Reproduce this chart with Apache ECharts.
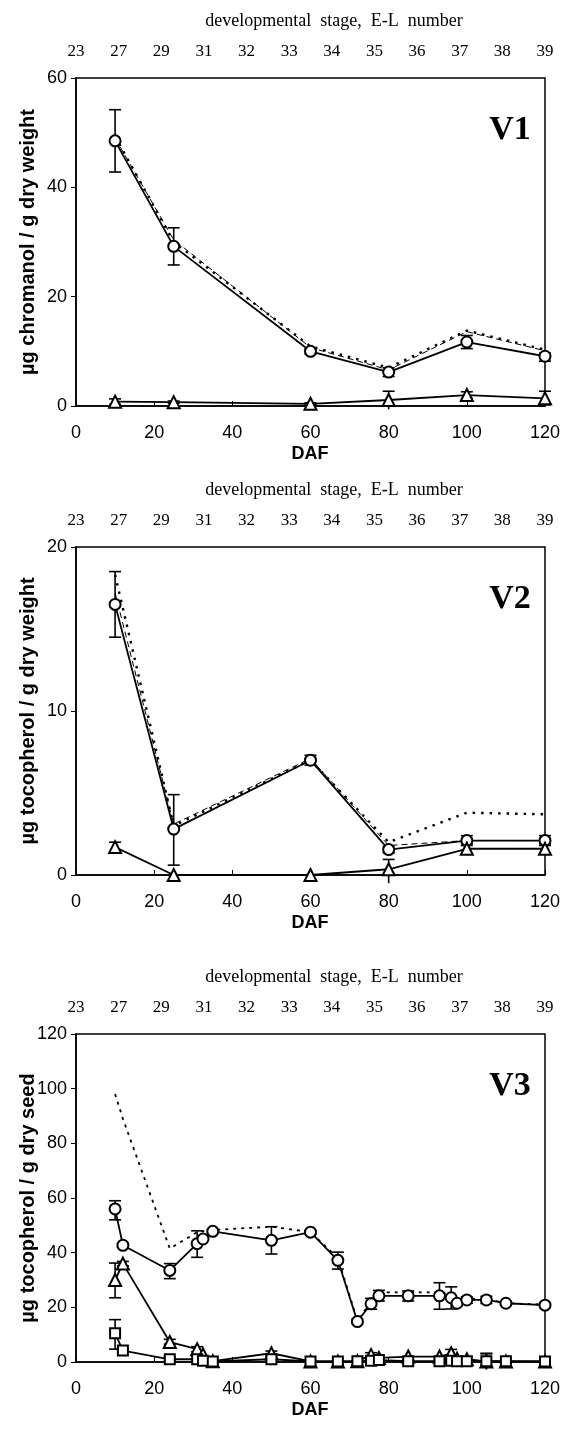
<!DOCTYPE html>
<html>
<head>
<meta charset="utf-8">
<script src="https://cdn.jsdelivr.net/npm/echarts@6/dist/echarts.min.js"></script>
<style>
html,body{margin:0;padding:0;background:#fff;}
#chart{width:573px;height:1429px;}
</style>
</head>
<body>
<div id="chart"></div>
<script>
// ---------- data ----------
const elStages = ['23','27','29','31','32','33','34','35','36','37','38','39'];
const dafTicks = [0, 20, 40, 60, 80, 100, 120];

// V1
const v1Daf = [10, 25, 60, 80, 100, 120];
const v1Circle   = [48.5, 29.2, 10.0, 6.2, 11.7, 9.1];
const v1CircleLo = [42.8, 25.8, 9.5, 5.4, 10.5, 8.2];
const v1CircleHi = [54.2, 32.6, 10.5, 7.0, 12.9, 9.7];
const v1Tri   = [0.8, 0.7, 0.4, 1.1, 2.0, 1.4];
const v1TriLo = [0.3, 0.5, 0.2, -0.6, 1.4, 0.2];
const v1TriHi = [1.3, 0.9, 0.6, 2.7, 2.6, 2.7];
const v1Total = [49.3, 30.0, 10.9, 7.0, 13.8, 10.3];
const v1Dash  = [49.0, 30.4, 10.7, 6.6, 13.6, 10.1];

// V2
const v2Daf = [10, 25, 60, 80, 100, 120];
const v2Circle   = [16.5, 2.8, 7.0, 1.55, 2.1, 2.1];
const v2CircleLo = [14.5, 0.6, 6.7, 1.35, 1.8, 1.8];
const v2CircleHi = [18.5, 4.9, 7.3, 1.75, 2.4, 2.4];
const v2Tri   = [1.7, 0.0, 0.0, 0.35, 1.6, 1.6];
const v2TriLo = [1.4, null, null, -0.5, 1.3, 1.3];
const v2TriHi = [2.0, null, null, 0.95, 1.9, 1.9];
const v2Total = [18.3, 3.0, 7.0, 2.0, 3.8, 3.7];
const v2Dash  = [17.2, 3.1, 7.1, 1.8, 2.1, 2.1];

// V3
const v3Daf = [10, 12, 24, 31, 32.5, 35, 50, 60, 67, 72, 75.5, 77.5, 85, 93, 96, 97.5, 100, 105, 110, 120];
const v3Circle   = [56, 42.7, 33.5, 43.3, 45, 47.8, 44.5, 47.5, 37.2, 14.8, 21.3, 24.2, 24.2, 24.2, 23.5, 21.5, 22.7, 22.7, 21.5, 20.8];
const v3CircleLo = [52, 42, 30.5, 38.3, 44.5, 47.3, 39.5, 47, 34, 14, 19.3, 22.3, 22.3, 19.3, 19.4, 21, 21.5, 21.4, null, null];
const v3CircleHi = [59, 43.5, 36, 48, 45.5, 48.3, 49.5, 48, 40.2, 15.6, 23.3, 26.2, 26, 29, 27.5, 22, 23.8, 24, null, null];
const v3Tri   = [30, 36, 7.3, 4.7, 2.8, 0.3, 3.2, 0.2, 0.2, 0.3, 2.6, 1.5, 2.0, 2.0, 3.2, 1.2, 1.0, 0.2, 0.2, 0.2];
const v3TriLo = [23.5, 35.2, 6.5, 3.8, null, null, 2.5, null, null, null, 1.8, null, null, null, 1.8, null, null, -2.5, null, null];
const v3TriHi = [36.2, 36.8, 8.3, 5.6, null, null, 4.0, null, null, null, 3.4, null, null, null, 4.6, null, null, 3.2, null, null];
const v3Sq   = [10.5, 4.2, 1.0, 1.0, 0.5, 0.2, 1.0, 0.2, 0.2, 0.3, 0.5, 0.7, 0.3, 0.3, 0.5, 0.3, 0.3, 0.3, 0.3, 0.2];
const v3SqLo = [4.7, 3.7, 0.5, null, null, null, null, null, null, null, null, null, null, null, null, null, null, -2.8, null, null];
const v3SqHi = [15.5, 4.7, 1.5, null, null, null, null, null, null, null, null, null, null, null, null, null, null, 3.0, null, null];
const v3Total = [98, 89, 41.5, 47.5, 47.8, 48.3, 49.5, 47.5, 38, 15.2, 22, 25.5, 25.5, 25.5, 24.5, 22.5, 23.2, 23, 21.5, 21];

// ---------- layout ----------
const SANS = "'Liberation Sans', Arial, sans-serif";
const SERIF = "'Liberation Serif', 'Times New Roman', serif";
const LEFT = 76, WIDTH = 469, HEIGHT = 328;
const panels = [
  {top: 78,  ymax: 60,  yint: 20, yname: 'µg chromanol / g dry weight', tag: 'V1'},
  {top: 547, ymax: 20,  yint: 10, yname: 'µg tocopherol / g dry weight', tag: 'V2'},
  {top: 1034, ymax: 120, yint: 20, yname: 'µg tocopherol / g dry seed', tag: 'V3'}
];

function pairs(xs, ys) { return xs.map((x, i) => [x, ys[i]]); }
function errData(xs, lo, hi) {
  const out = [];
  xs.forEach((x, i) => { if (lo[i] != null && hi[i] != null) out.push([x, lo[i], hi[i]]); });
  return out;
}
function errSeries(xs, lo, hi, idx) {
  return {
    type: 'custom', xAxisIndex: idx * 2, yAxisIndex: idx, clip: false, z: 1,
    data: errData(xs, lo, hi),
    renderItem: function (params, api) {
      const x = api.value(0), l = api.value(1), h = api.value(2);
      const pl = api.coord([x, l]), ph = api.coord([x, h]);
      const w = 6, st = {stroke: '#000', lineWidth: 1.6};
      const ch = [
        {type: 'line', shape: {x1: pl[0], y1: pl[1], x2: ph[0], y2: ph[1]}, style: st},
        {type: 'line', shape: {x1: ph[0] - w, y1: ph[1], x2: ph[0] + w, y2: ph[1]}, style: st}
      ];
      if (l >= 0) ch.push({type: 'line', shape: {x1: pl[0] - w, y1: pl[1], x2: pl[0] + w, y2: pl[1]}, style: st});
      return {type: 'group', children: ch};
    }
  };
}
function markerLine(xs, ys, idx, symbol, size) {
  return {
    type: 'line', xAxisIndex: idx * 2, yAxisIndex: idx, data: pairs(xs, ys),
    symbol: symbol, symbolSize: size, showSymbol: true, z: 3,
    lineStyle: {color: '#000', width: 1.8},
    itemStyle: {color: '#000', borderColor: '#000', borderWidth: 1.5},
    animation: false
  };
}
function styledLine(xs, ys, idx, width, dash) {
  return {
    type: 'line', xAxisIndex: idx * 2, yAxisIndex: idx, data: pairs(xs, ys),
    symbol: 'none', z: 2,
    lineStyle: {color: '#000', width: width, type: dash},
    animation: false
  };
}

const grid = [], xAxis = [], yAxis = [], graphic = [];
panels.forEach((p, i) => {
  grid.push({left: LEFT, top: p.top, width: WIDTH, height: HEIGHT, show: true,
             borderColor: '#000', borderWidth: 1.5, backgroundColor: 'transparent'});
  xAxis.push({
    type: 'value', gridIndex: i, min: 0, max: 120, interval: 20,
    axisLine: {show: true, lineStyle: {color: '#000', width: 1.5}},
    axisTick: {show: true, inside: true, length: 5, lineStyle: {color: '#000', width: 1}},
    axisLabel: {color: '#000', fontFamily: SANS, fontSize: 18, margin: 18,
                customValues: dafTicks},
    splitLine: {show: false}
  });
  xAxis.push({
    type: 'category', gridIndex: i, position: 'top', data: elStages, boundaryGap: false,
    axisLine: {show: false}, axisTick: {show: false},
    axisLabel: {color: '#000', fontFamily: SERIF, fontSize: 17, margin: 18, interval: 0},
    splitLine: {show: false}
  });
  yAxis.push({
    type: 'value', gridIndex: i, min: 0, max: p.ymax, interval: p.yint,
    axisLine: {show: true, lineStyle: {color: '#000', width: 1.5}},
    axisTick: {show: true, inside: false, length: 5, lineStyle: {color: '#000', width: 1}},
    axisLabel: {color: '#000', fontFamily: SANS, fontSize: 18, margin: 9},
    splitLine: {show: false}
  });
  graphic.push({type: 'text', x: 334, y: p.top - 57,
    style: {text: 'developmental  stage,  E-L  number', font: '18px ' + SERIF, fill: '#000',
            textAlign: 'center', textVerticalAlign: 'middle'}});
  graphic.push({type: 'text', x: 310, y: p.top + HEIGHT + 48,
    style: {text: 'DAF', font: 'bold 18px ' + SANS, fill: '#000',
            textAlign: 'center', textVerticalAlign: 'middle'}});
  graphic.push({type: 'text', x: 28, y: p.top + HEIGHT / 2, rotation: Math.PI / 2,
    style: {text: p.yname, font: 'bold 20px ' + SANS, fill: '#000',
            textAlign: 'center', textVerticalAlign: 'middle'}});
  graphic.push({type: 'text', x: 510, y: p.top + 52,
    style: {text: p.tag, font: 'bold 34px ' + SERIF, fill: '#000',
            textAlign: 'center', textVerticalAlign: 'middle'}});
});

const series = [
  // V1
  styledLine(v1Daf, v1Dash, 0, 1, [6, 4]),
  styledLine(v1Daf, v1Total, 0, 2.4, [2.5, 6]),
  errSeries(v1Daf, v1CircleLo, v1CircleHi, 0),
  errSeries(v1Daf, v1TriLo, v1TriHi, 0),
  markerLine(v1Daf, v1Circle, 0, 'emptyCircle', 11),
  markerLine(v1Daf, v1Tri, 0, 'emptyTriangle', 12),
  // V2
  styledLine(v2Daf, v2Dash, 1, 1, [6, 4]),
  styledLine(v2Daf, v2Total, 1, 2.4, [2.5, 6]),
  errSeries(v2Daf, v2CircleLo, v2CircleHi, 1),
  errSeries(v2Daf, v2TriLo, v2TriHi, 1),
  markerLine(v2Daf, v2Circle, 1, 'emptyCircle', 11),
  markerLine(v2Daf, v2Tri, 1, 'emptyTriangle', 12),
  // V3
  styledLine(v3Daf, v3Total, 2, 1.8, [3, 5]),
  errSeries(v3Daf, v3CircleLo, v3CircleHi, 2),
  errSeries(v3Daf, v3TriLo, v3TriHi, 2),
  errSeries(v3Daf, v3SqLo, v3SqHi, 2),
  markerLine(v3Daf, v3Circle, 2, 'emptyCircle', 11),
  markerLine(v3Daf, v3Tri, 2, 'emptyTriangle', 12),
  markerLine(v3Daf, v3Sq, 2, 'emptyRect', 10)
];

const chart = echarts.init(document.getElementById('chart'), null, {renderer: 'canvas'});
chart.setOption({
  backgroundColor: '#fff',
  animation: false,
  grid: grid, xAxis: xAxis, yAxis: yAxis, series: series, graphic: graphic
});
</script>
</body>
</html>
